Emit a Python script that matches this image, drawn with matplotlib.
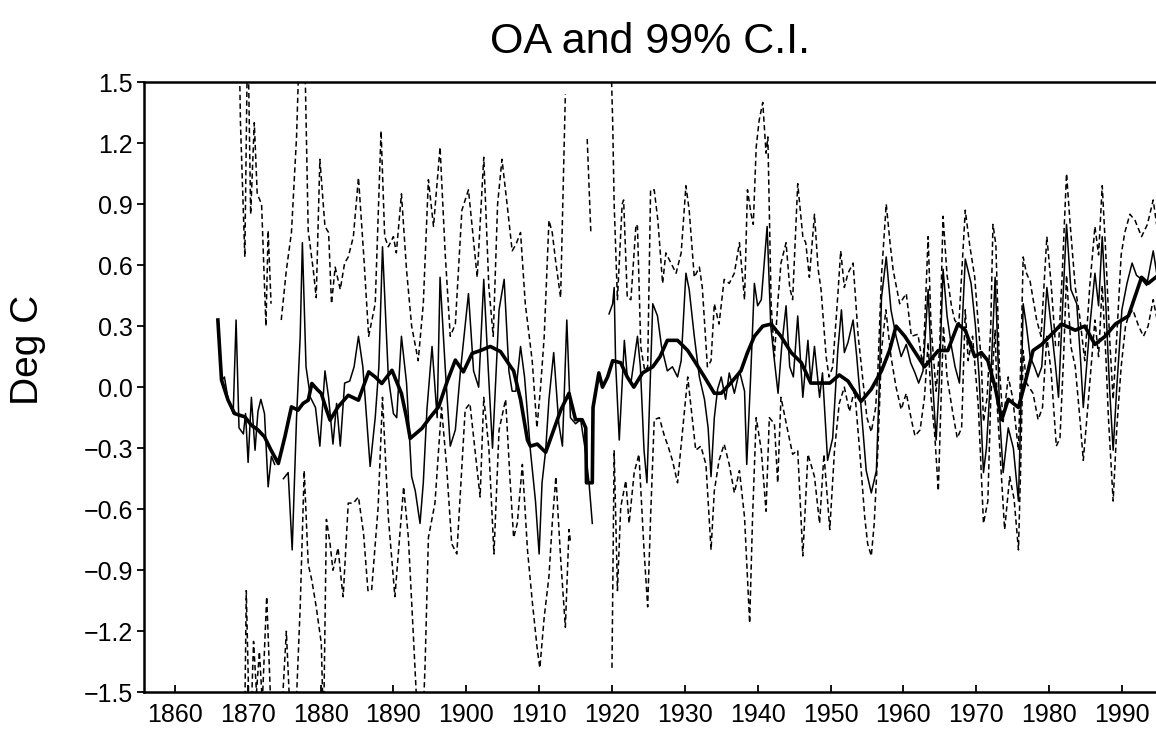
import numpy as np
import matplotlib
matplotlib.use("Agg")
import matplotlib.pyplot as plt
from matplotlib.ticker import FuncFormatter

nan = np.nan

# ---- data (year, value); nan marks a gap ----
oa_years = [1865.9, 1866.4, 1866.8, 1867.3, 1868.0, 1868.4, 1868.8, 1869.4, 1869.7, 1870.05,
            1870.5, 1871.0, 1871.4, 1871.8, 1872.3, 1872.8, 1873.25, 1873.7, 1874.3,
            1874.9, 1875.55, 1876.1, 1876.7, 1877.2, 1877.5, 1878.0, 1878.6, 1879.3, 1879.9,
            1880.6, 1881.1, 1881.7, 1882.2, 1882.7, 1883.3, 1884.0, 1884.6, 1885.2, 1885.8,
            1886.8, 1887.5, 1888.0, 1888.5, 1889.3, 1890.0, 1890.45, 1891.1, 1891.8, 1892.5,
            1893.0, 1893.65, 1894.1, 1894.6, 1895.3, 1896.0, 1896.4, 1897.1, 1897.8, 1898.5,
            1899.2, 1900.3, 1901.0, 1901.7, 1902.4, 1903.0, 1903.6, 1904.5, 1905.2, 1905.85,
            1906.3, 1906.8, 1907.45, 1908.0, 1908.8, 1909.5, 1910.0, 1910.4, 1910.9, 1911.35,
            1912.0, 1912.7, 1913.2, 1913.8, 1914.3, 1915.0, 1915.7, 1916.3, 1916.85, 1917.3,
            1918.5,
            1919.6, 1920.1, 1920.3, 1920.5, 1921.0, 1921.7, 1922.1, 1922.6, 1923.5, 1923.9,
            1924.4, 1924.8, 1925.6, 1926.25, 1926.8, 1927.6, 1928.3, 1929.0, 1929.5, 1930.15,
            1930.6, 1931.3, 1932.0, 1932.7, 1933.2, 1933.6, 1934.05, 1934.5, 1935.0, 1935.6,
            1936.1, 1936.8, 1937.5, 1938.2, 1938.5, 1939.0, 1939.55, 1940.0, 1940.5, 1941.3,
            1941.8, 1942.3, 1942.8, 1943.3, 1943.9, 1944.4, 1944.9, 1945.5, 1946.2, 1946.9,
            1947.3, 1947.8, 1948.5, 1948.9, 1949.6, 1950.3, 1951.0, 1951.5, 1951.9, 1952.4,
            1953.1, 1953.6, 1954.2, 1954.9, 1955.6, 1956.3, 1956.7, 1957.0, 1957.65, 1958.3,
            1959.0, 1959.7, 1960.4, 1961.0, 1961.6, 1962.1, 1962.7, 1963.4, 1963.8, 1964.5,
            1964.9, 1965.45, 1966.0, 1966.6, 1967.1, 1967.7, 1968.5, 1969.3, 1969.9, 1970.4,
            1971.0, 1971.4, 1972.1, 1972.6, 1972.9, 1973.25, 1973.7, 1974.4, 1975.1, 1975.8,
            1976.1, 1976.45, 1976.9, 1977.4, 1978.0, 1978.5, 1979.0, 1979.7, 1980.3, 1980.9,
            1981.3, 1981.8, 1982.4, 1983.0, 1983.8, 1984.3, 1984.7, 1985.6, 1986.3, 1986.8,
            1987.3, 1987.8, 1988.3, 1988.8, 1989.3, 1990.0, 1990.7, 1991.4, 1992.0, 1992.7,
            1993.4, 1994.3, 1995.0]
oa_values = [0.33, 0.03, 0.05, -0.06, -0.13, 0.33, -0.20, -0.23, -0.13, -0.37,
             -0.05, -0.31, -0.12, -0.06, -0.13, -0.49, -0.34, -0.38, nan,
             -0.45, -0.42, -0.80, -0.15, 0.25, 0.71, 0.10, -0.05, -0.10, -0.29,
             0.08, -0.05, -0.28, -0.08, -0.29, 0.02, 0.03, 0.10, 0.25, 0.10,
             -0.39, -0.15, 0.10, 0.69, 0.05, -0.13, -0.15, 0.25, 0.02, -0.44,
             -0.51, -0.67, -0.47, -0.11, 0.20, -0.15, 0.54, 0.10, -0.29, -0.21,
             0.08, 0.46, 0.08, 0.00, 0.53, 0.10, -0.30, 0.38, 0.53, 0.08,
             -0.02, -0.02, 0.20, 0.05, -0.31, -0.56, -0.82, -0.47, -0.31, -0.06,
             0.17, -0.18, -0.29, 0.33, -0.15, -0.18, -0.16, -0.30, -0.47, -0.67,
             nan,
             0.36, 0.41, 0.49, 0.12, -0.26, 0.23, 0.05, 0.02, 0.25, 0.10,
             -0.31, -0.47, 0.41, 0.35, 0.20, 0.08, 0.10, 0.05, 0.13, 0.56,
             0.48, 0.25, 0.05, -0.06, -0.20, -0.44, -0.15, -0.01, 0.05, -0.06,
             0.07, -0.03, 0.08, -0.02, -0.38, 0.02, 0.51, 0.40, 0.43, 0.79,
             0.30, 0.13, -0.03, 0.20, 0.40, 0.10, 0.05, 0.35, -0.05, 0.23,
             0.02, 0.20, -0.05, 0.07, -0.36, -0.25, 0.18, 0.38, 0.17, 0.22,
             0.33, 0.15, -0.10, -0.41, -0.52, -0.41, 0.02, 0.44, 0.64, 0.38,
             0.25, 0.15, 0.21, 0.12, 0.07, 0.02, 0.08, 0.48, 0.15, -0.26,
             0.00, 0.58, 0.35, 0.20, 0.10, 0.02, 0.63, 0.51, 0.30, 0.05,
             -0.42, -0.30, 0.12, 0.54, 0.25, -0.16, -0.42, -0.20, -0.30, -0.56,
             -0.15, 0.41, 0.30, 0.15, 0.10, 0.05, 0.10, 0.49, 0.30, 0.10,
             -0.05, 0.35, 0.80, 0.48, 0.41, 0.15, -0.10, 0.30, 0.56, 0.40,
             0.74, 0.40, 0.00, -0.31, 0.00, 0.38, 0.51, 0.61, 0.55, 0.53,
             0.50, 0.67, 0.51]

smooth_years = [1865.9, 1866.4, 1867.3, 1868.2, 1869.6, 1870.5, 1871.4, 1872.3, 1873.2, 1874.2,
                1875.1, 1876.0, 1876.9, 1877.6, 1878.3, 1878.8, 1879.5, 1880.1, 1880.7, 1881.3,
                1882.4, 1883.8, 1885.2, 1886.6, 1887.5, 1888.4, 1889.8, 1891.1, 1891.8, 1892.3,
                1893.9, 1895.0, 1896.2, 1897.4, 1898.5, 1899.6, 1900.8, 1901.95, 1903.3, 1904.7,
                1906.1, 1906.5, 1907.45, 1908.4, 1908.8, 1909.75, 1910.9, 1911.8, 1913.0, 1914.1,
                1915.0, 1915.9, 1916.4, 1916.5, 1917.3, 1917.4, 1918.2, 1918.7, 1919.4, 1920.1,
                1921.2, 1922.1, 1923.0, 1924.2, 1925.6, 1926.6, 1927.6, 1929.0, 1930.4, 1931.3,
                1932.7, 1934.05, 1935.0, 1936.3, 1937.7, 1938.6, 1939.55, 1940.7, 1941.85, 1943.2,
                1944.6, 1946.0, 1947.3, 1948.7, 1949.9, 1951.2, 1952.4, 1954.2, 1955.6, 1957.0,
                1958.1, 1959.0, 1960.2, 1961.1, 1962.9, 1964.8, 1966.1, 1967.5, 1968.5, 1969.8,
                1970.7, 1971.6, 1972.6, 1973.5, 1974.4, 1975.8, 1976.7, 1977.8, 1979.0, 1980.35,
                1981.7, 1983.6, 1984.9, 1986.3, 1987.7, 1989.1, 1990.9, 1992.7, 1993.6, 1995.0]
smooth_values = [0.33, 0.035, -0.064, -0.13, -0.146, -0.187, -0.21, -0.244, -0.31, -0.375,
                 -0.244, -0.097, -0.113, -0.08, -0.064, 0.018, -0.01, -0.031, -0.10, -0.162,
                 -0.097, -0.04, -0.064, 0.075, 0.05, 0.018, 0.083, -0.031, -0.15, -0.252,
                 -0.203, -0.15, -0.097, 0.03, 0.133, 0.075, 0.166, 0.18, 0.20, 0.175,
                 0.10, 0.08, -0.06, -0.26, -0.29, -0.28, -0.32, -0.23, -0.11, -0.03,
                 -0.16, -0.16, -0.20, -0.47, -0.47, -0.10, 0.07, 0.00, 0.05, 0.13,
                 0.12, 0.05, 0.00, 0.07, 0.10, 0.15, 0.23, 0.23, 0.18, 0.13,
                 0.05, -0.03, -0.03, 0.02, 0.08, 0.17, 0.25, 0.30, 0.31, 0.25,
                 0.17, 0.12, 0.02, 0.02, 0.02, 0.06, 0.03, -0.07, -0.01, 0.08,
                 0.18, 0.30, 0.25, 0.20, 0.10, 0.18, 0.18, 0.31, 0.28, 0.15,
                 0.17, 0.13, 0.00, -0.16, -0.06, -0.10, 0.02, 0.18, 0.21, 0.26,
                 0.31, 0.28, 0.30, 0.21, 0.25, 0.31, 0.35, 0.54, 0.51, 0.55]

upper_years = [1866.0, 1868.6, 1869.0, 1869.6, 1870.0, 1870.4, 1870.9, 1871.3, 1871.9, 1872.5,
               1872.8, 1873.2, 1873.9,
               1874.6, 1875.3, 1876.0, 1876.7, 1877.1, 1877.8, 1878.3, 1879.0, 1879.4, 1879.9,
               1880.6, 1881.1, 1881.5, 1882.0, 1882.7, 1883.3, 1883.8, 1884.5, 1885.2, 1885.9,
               1886.6, 1887.5, 1888.3, 1888.8, 1889.3, 1890.0, 1890.4, 1891.1, 1891.8, 1892.5,
               1893.4, 1894.1, 1894.8, 1895.5, 1896.4, 1897.1, 1897.8, 1898.5, 1899.4, 1900.3,
               1901.5, 1902.4, 1903.1, 1903.7, 1904.3, 1904.9, 1905.6, 1906.3, 1906.8, 1907.45,
               1908.1, 1909.05, 1909.7, 1910.2, 1910.7, 1911.35, 1911.8, 1912.3, 1912.95, 1913.6,
               1915.0,
               1916.6, 1917.1, 1918.0,
               1919.5, 1919.8, 1920.1, 1920.3, 1920.75, 1921.4, 1921.6, 1922.1, 1922.6, 1923.3,
               1923.5, 1923.95, 1924.5, 1924.9, 1925.3, 1925.8, 1926.3, 1926.95, 1927.4, 1928.1,
               1928.8, 1929.5, 1930.15, 1930.6, 1931.3, 1932.0, 1932.4, 1933.1, 1933.6, 1934.05,
               1934.7, 1935.4, 1936.1, 1936.8, 1937.5, 1938.2, 1938.6, 1939.1, 1939.4, 1939.8,
               1940.2, 1940.7, 1941.15, 1941.4, 1941.85, 1942.3, 1942.75, 1943.2, 1943.9, 1944.4,
               1944.8, 1945.5, 1946.2, 1946.6, 1947.1, 1947.8, 1948.3, 1948.7, 1949.4, 1949.8,
               1950.3, 1951.0, 1951.4, 1951.9, 1952.4, 1953.1, 1953.8, 1954.4, 1955.0, 1955.6,
               1956.2, 1956.5, 1957.0, 1957.65, 1958.2, 1958.6, 1959.5, 1960.4, 1961.1, 1962.0,
               1962.7, 1963.4, 1963.8, 1964.5, 1965.0, 1965.45, 1966.0, 1966.6, 1967.05, 1967.6,
               1968.5, 1969.1, 1969.8, 1970.3, 1970.7, 1971.0, 1971.5, 1972.0, 1972.3, 1972.7,
               1973.2, 1973.7, 1974.4, 1975.0, 1975.8, 1976.1, 1976.45, 1976.9, 1977.4, 1978.3,
               1978.9, 1979.7, 1980.3, 1980.9, 1981.3, 1981.8, 1982.4, 1982.9, 1983.6, 1984.2,
               1984.9, 1985.6, 1986.3, 1986.8, 1987.3, 1987.8, 1988.3, 1988.8, 1989.3, 1989.9,
               1990.4, 1991.1, 1991.8, 1992.7, 1993.5, 1994.3, 1995.0]
upper_values = [2.5, 2.2, 1.3, 0.64, 1.8, 0.85, 1.30, 0.95, 0.90, 0.30,
                0.77, 0.41, nan,
                0.33, 0.575, 0.76, 1.23, 1.7, 1.7, 0.77, 0.575, 0.44, 1.12,
                0.79, 0.76, 0.41, 0.59, 0.48, 0.61, 0.64, 0.74, 1.03, 0.66,
                0.25, 0.41, 1.26, 0.74, 0.69, 0.74, 0.66, 0.95, 0.575, 0.30,
                0.13, 0.41, 1.02, 0.79, 1.18, 0.66, 0.25, 0.31, 0.87, 0.97,
                0.54, 1.13, 0.49, 0.25, 0.90, 1.12, 0.90, 0.67, 0.70, 0.76,
                0.41, 0.13, -0.20, 0.00, 0.25, 0.82, 0.76, 0.61, 0.44, 1.44,
                nan,
                1.22, 0.76, nan,
                1.8, 1.7, 1.30, 0.90, 0.43, 0.90, 0.92, 0.44, 0.43, 0.80,
                0.79, 0.20, 0.08, 0.10, 0.97, 0.97, 0.82, 0.51, 0.66, 0.61,
                0.56, 0.66, 0.99, 0.87, 0.54, 0.59, 0.49, 0.10, 0.13, 0.41,
                0.31, 0.53, 0.51, 0.56, 0.71, 0.43, 0.97, 0.85, 0.80, 1.18,
                1.31, 1.40, 1.15, 1.23, 0.41, 0.15, 0.41, 0.61, 0.71, 0.49,
                0.43, 1.00, 0.74, 0.71, 0.54, 0.85, 0.58, 0.48, 0.15, 0.05,
                0.10, 0.45, 0.67, 0.49, 0.56, 0.61, 0.25, 0.05, -0.15, -0.22,
                -0.10, 0.08, 0.55, 0.90, 0.70, 0.575, 0.41, 0.46, 0.25, 0.26,
                0.10, 0.74, 0.30, -0.02, 0.20, 0.84, 0.55, 0.40, 0.33, 0.30,
                0.87, 0.70, 0.54, 0.30, 0.13, -0.17, -0.05, 0.30, 0.80, 0.70,
                0.08, -0.17, 0.05, -0.05, -0.31, 0.10, 0.64, 0.56, 0.52, 0.33,
                0.25, 0.74, 0.50, 0.20, 0.20, 0.55, 1.05, 0.80, 0.49, 0.35,
                0.13, 0.50, 0.79, 0.65, 0.99, 0.65, 0.25, -0.06, 0.25, 0.65,
                0.76, 0.85, 0.82, 0.74, 0.80, 0.92, 0.74]

lower_years = [1866.0, 1869.4, 1869.8, 1870.3, 1870.8, 1871.2, 1871.6, 1872.0, 1872.6, 1873.2,
               1873.9,
               1874.6, 1875.3, 1875.8, 1876.5, 1877.2, 1877.75, 1878.3, 1878.8, 1879.4, 1880.1,
               1880.4, 1880.8, 1881.3, 1881.7, 1882.4, 1882.9, 1883.1, 1883.8, 1884.5, 1885.2,
               1885.9, 1886.5, 1887.0, 1887.9, 1888.5, 1889.3, 1890.2, 1891.4, 1892.05, 1892.75,
               1893.4, 1894.0, 1894.35, 1894.8, 1895.7, 1896.6, 1897.3, 1898.0, 1898.7, 1899.4,
               1899.85, 1900.5, 1901.2, 1901.9, 1902.4, 1903.1, 1903.8, 1904.5, 1905.4, 1906.0,
               1906.5, 1907.0, 1907.7, 1908.4, 1909.05, 1909.75, 1910.1, 1910.7, 1911.35, 1911.8,
               1912.3, 1912.95, 1913.6, 1914.1, 1914.3, 1916.0,
               1920.0, 1920.3, 1920.75, 1921.2, 1921.9, 1922.35, 1923.05, 1923.7, 1924.4, 1924.9,
               1925.3, 1925.8, 1926.5, 1927.2, 1927.7, 1928.3, 1929.0, 1929.7, 1930.4, 1931.5,
               1932.2, 1932.9, 1933.6, 1934.05, 1934.7, 1935.4, 1936.1, 1936.8, 1937.5, 1938.2,
               1938.9, 1939.3, 1939.8, 1940.5, 1941.15, 1941.6, 1942.3, 1942.75, 1943.2, 1944.1,
               1944.8, 1945.5, 1946.2, 1946.9, 1947.4, 1947.8, 1948.5, 1949.1, 1949.9, 1950.55,
               1951.2, 1951.9, 1952.6, 1953.3, 1954.0, 1954.7, 1955.1, 1955.6, 1956.0, 1956.5,
               1957.0, 1957.6, 1958.3, 1959.0, 1959.7, 1960.4, 1961.1, 1961.6, 1962.3, 1962.9,
               1963.4, 1963.8, 1964.3, 1964.8, 1965.1, 1965.5, 1966.0, 1966.8, 1967.4, 1968.0,
               1968.5, 1968.9, 1969.5, 1970.3, 1970.7, 1971.0, 1971.6, 1972.0, 1972.6, 1972.9,
               1973.4, 1973.9, 1974.6, 1975.2, 1975.8, 1976.1, 1976.45, 1976.9, 1977.8, 1978.5,
               1979.1, 1979.7, 1980.3, 1981.0, 1981.5, 1982.0, 1982.4, 1983.0, 1983.6, 1984.25,
               1984.7, 1985.2, 1985.85, 1986.3, 1986.8, 1987.3, 1987.8, 1988.15, 1988.8, 1989.3,
               1989.9, 1990.5, 1990.9, 1991.5, 1992.3, 1992.96, 1993.6, 1994.3, 1995.0]
lower_values = [-2.5, -2.2, -1.0, -1.8, -1.25, -1.50, -1.30, -1.55, -1.03, -1.60,
                nan,
                -1.65, -1.20, -1.6, -1.7, -1.08, -0.41, -0.87, -0.95, -1.08, -1.26,
                -1.7, -0.65, -0.77, -0.90, -0.79, -0.97, -1.03, -0.57, -0.57, -0.54,
                -0.72, -1.0, -1.0, -0.59, -0.05, -0.64, -1.03, -0.49, -0.74, -1.23,
                -1.7, -1.7, -1.36, -0.74, -0.57, -0.10, -0.39, -0.77, -0.82, -0.39,
                -0.11, -0.08, -0.31, -0.54, -0.05, -0.30, -0.82, -0.21, -0.06, -0.45,
                -0.74, -0.67, -0.38, -0.80, -1.05, -1.29, -1.38, -1.13, -0.93, -0.67,
                -0.44, -0.84, -1.18, -0.70, -0.76, nan,
                -1.38, -0.31, -1.0, -0.59, -0.46, -0.67, -0.42, -0.33, -0.80, -1.08,
                -0.64, -0.16, -0.15, -0.24, -0.29, -0.36, -0.47, -0.21, 0.05, -0.31,
                -0.29, -0.38, -0.80, -0.51, -0.36, -0.28, -0.38, -0.52, -0.41, -0.64,
                -1.16, -0.64, -0.15, -0.31, -0.61, -0.15, -0.18, -0.47, -0.05, -0.21,
                -0.33, -0.31, -0.83, -0.33, -0.39, -0.44, -0.67, -0.33, -0.70, -0.31,
                -0.08, 0.00, -0.12, -0.01, -0.31, -0.64, -0.77, -0.83, -0.67, -0.31,
                0.18, 0.38, 0.15, 0.00, -0.11, -0.03, -0.16, -0.24, -0.21, -0.05,
                0.22, -0.05, -0.23, -0.51, -0.15, 0.30, 0.05, -0.13, -0.25, -0.20,
                0.38, 0.13, 0.25, -0.10, -0.42, -0.67, -0.56, -0.05, 0.28, -0.10,
                -0.40, -0.70, -0.44, -0.55, -0.80, -0.40, 0.18, 0.02, -0.03, -0.16,
                -0.10, 0.25, 0.07, -0.29, -0.25, 0.15, 0.55, 0.20, 0.10, -0.16,
                -0.36, -0.15, 0.13, 0.33, 0.15, 0.50, 0.15, -0.15, -0.56, -0.20,
                0.10, 0.30, 0.35, 0.38, 0.30, 0.25, 0.30, 0.43, 0.30]

title_text = "OA and 99% C.I."
ylabel_text = "Deg C"
y_ticks = [-1.5, -1.2, -0.9, -0.6, -0.3, 0.0, 0.3, 0.6, 0.9, 1.2, 1.5]
x_ticks = list(range(1860, 1991, 10))

# ---- figure ----
plt.rcParams['font.family'] = ['Liberation Sans', 'DejaVu Sans']
fig = plt.figure(figsize=(11.56, 7.30), dpi=100)
ax = fig.add_axes([144.3 / 1156, 1 - 692.3 / 730, 1 - 144.3 / 1156 + 0.002, (692.3 - 82) / 730])

ax.plot(upper_years, upper_values, color='black', lw=1.1, ls=(0, (3.5, 2.2)))
ax.plot(lower_years, lower_values, color='black', lw=1.1, ls=(0, (3.5, 2.2)))
ax.plot(oa_years, oa_values, color='black', lw=1.1)
ax.plot(smooth_years, smooth_values, color='black', lw=2.6)

ax.set_xlim(1855.8, 1995.0)
ax.set_ylim(-1.5, 1.5)
ax.set_yticks(y_ticks)
ax.set_xticks(x_ticks)
ax.yaxis.set_major_formatter(FuncFormatter(lambda v, p: ("%.1f" % v).replace("-", "\u2212")))

for s in ['left', 'bottom', 'top']:
    ax.spines[s].set_linewidth(1.8)
ax.spines['right'].set_visible(False)
ax.tick_params(axis='y', direction='out', length=5, width=1.3, labelsize=18, pad=3)
ax.tick_params(axis='x', direction='in', length=5, width=1.3, labelsize=18, pad=8)

fig.text(650 / 1156, 1 - 42 / 730, title_text, ha='center', va='center', fontsize=31)
fig.text(28 / 1156, 1 - 350 / 730, ylabel_text, ha='center', va='center', rotation=90, fontsize=28)

fig.savefig("out.png", dpi=100)
